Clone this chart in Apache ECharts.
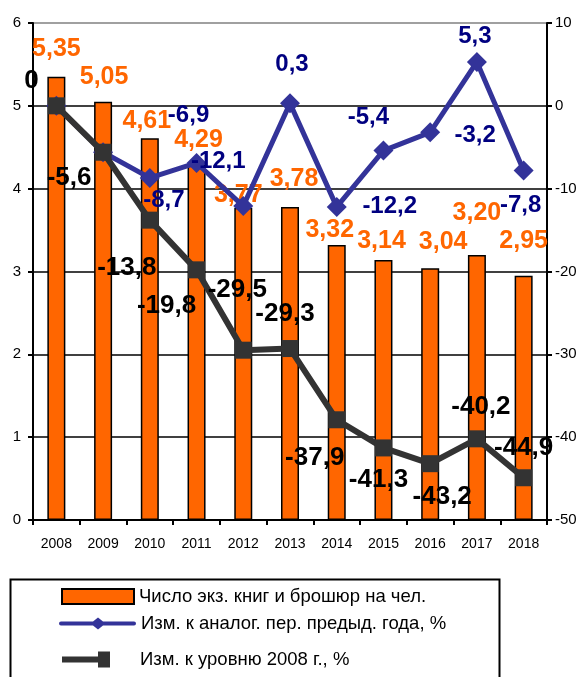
<!DOCTYPE html>
<html><head><meta charset="utf-8">
<script src="https://cdn.jsdelivr.net/npm/echarts@6/dist/echarts.min.js"></script>
<style>html,body{margin:0;padding:0;background:#fff}#c{width:583px;height:677px}</style>
</head><body><div id="c"></div>
<script>
const years = ['2008','2009','2010','2011','2012','2013','2014','2015','2016','2017','2018'];
const booksPerCapita = [5.35,5.05,4.61,4.29,3.77,3.78,3.32,3.14,3.04,3.20,2.95];
const changePrevYear = [0,-5.6,-8.7,-6.9,-12.1,0.3,-12.2,-5.4,-3.2,5.3,-7.8];
const change2008 = [0,-5.6,-13.8,-19.8,-29.5,-29.3,-37.9,-41.3,-43.2,-40.2,-44.9];
const leftTicks = [0,6,1];
const rightTicks = [-50,10,10];
const names = ['Число экз. книг и брошюр на чел.','Изм. к аналог. пер. предыд. года, %','Изм. к уровню 2008 г., %'];

// label placement (style only)
const barLabelOffsets = [[0,-15],[1,-12],[-3,-5],[2,-12],[-5,0],[4,-15],[-7,-2],[-2,-6],[13,-14],[0,-29],[0,-22]];
const blueLabelOffsets = [null,null,[14,22],[-8,-48],[-25,-45],[2,-39],[53,-1],[-15,-33],[45,3],[-2,-26],[-3,35]];
const blackLabelOffsets = [[-25,-25],[-34,26],[-23,48],[-30,36],[-6,-60],[-5,-35],[-22,38],[-5,32],[12,33],[4,-32],[0,-30]];

const fmt = v => String(v).replace('.', ',');
const fmt2 = v => v.toFixed(2).replace('.', ',');
const FF = 'Liberation Sans, Arial, sans-serif';

const barData = booksPerCapita.map((v,i)=>({value:v,label:{show:true,position:'top',distance:0,offset:barLabelOffsets[i],formatter:fmt2(v),color:'#FF6600',fontFamily:FF,fontWeight:'bold',fontSize:25}}));
const blueData = changePrevYear.map((v,i)=>({value:v,label:blueLabelOffsets[i]?{show:true,position:'inside',offset:blueLabelOffsets[i],formatter:fmt(v),color:'#000080',fontFamily:FF,fontWeight:'bold',fontSize:24}:{show:false}}));
const blackData = change2008.map((v,i)=>({value:v,label:{show:true,position:'inside',offset:blackLabelOffsets[i],formatter:fmt(v),color:'#000',fontFamily:FF,fontWeight:'bold',fontSize:26}}));

const chart = echarts.init(document.getElementById('c'), null, {renderer:'canvas'});
const axisFont = {fontFamily:FF, color:'#000'};
chart.setOption({
  animation:false,
  backgroundColor:'#fff',
  grid:{left:33,right:36,top:23,bottom:157,containLabel:false},
  xAxis:{type:'category',data:years,boundaryGap:true,
    axisLine:{lineStyle:{color:'#000',width:2}},
    axisTick:{show:true,length:5,interval:0,lineStyle:{color:'#000',width:2}},
    axisLabel:{...axisFont,fontSize:14,margin:17,interval:0}},
  yAxis:[
    {type:'value',min:leftTicks[0],max:leftTicks[1],interval:leftTicks[2],
     axisLine:{show:true,lineStyle:{color:'#000',width:2}},
     axisTick:{show:true,length:5,lineStyle:{color:'#000',width:2}},
     axisLabel:{...axisFont,fontSize:15,margin:12},
     splitLine:{show:true,lineStyle:{color:['#000','#000','#000','#000','#000','#000','#808080'],width:1.5}}},
    {type:'value',min:rightTicks[0],max:rightTicks[1],interval:rightTicks[2],position:'right',
     axisLine:{show:true,lineStyle:{color:'#000',width:2}},
     axisTick:{show:true,length:5,lineStyle:{color:'#000',width:2}},
     axisLabel:{...axisFont,fontSize:15,margin:8},
     splitLine:{show:false}}
  ],
  legend:[
    {data:[{name:names[0],icon:'rect'}],left:61,top:587,itemWidth:72,itemHeight:15,padding:0,
     itemStyle:{borderColor:'#000',borderWidth:2},
     textStyle:{...axisFont,fontSize:18.5}},
    {data:[{name:names[1],icon:'path://M2,4 H34 L39,0 L44,4 H75 A2,2 0 0 1 75,8 H44 L39,12 L34,8 H2 A2,2 0 0 1 2,4 Z'}],left:59,top:614,itemWidth:77,itemHeight:12,padding:0,
     textStyle:{...axisFont,fontSize:18.5}},
    {data:[{name:names[2],icon:'path://M0,5 H36 V0 H48 V16 H36 V11 H0 Z'}],left:62,top:650,itemWidth:48,itemHeight:16,padding:0,
     textStyle:{...axisFont,fontSize:18.5,padding:[0,0,0,25]}}
  ],
  graphic:[{type:'rect',left:8,top:577,shape:{width:489,height:120},style:{fill:'none',stroke:'#000',lineWidth:2},silent:true}],
  series:[
    {name:names[0],type:'bar',yAxisIndex:0,data:barData,barWidth:18,
     itemStyle:{color:'#FF6600',borderColor:'#000',borderWidth:1.5},z:2},
    {name:names[1],type:'line',yAxisIndex:1,data:blueData,symbol:'diamond',symbolSize:20,
     lineStyle:{color:'#333399',width:5},itemStyle:{color:'#333399'},z:3},
    {name:names[2],type:'line',yAxisIndex:1,data:blackData,symbol:'rect',symbolSize:17,
     lineStyle:{color:'#333333',width:6},itemStyle:{color:'#333333'},z:4}
  ]
});
</script></body></html>
